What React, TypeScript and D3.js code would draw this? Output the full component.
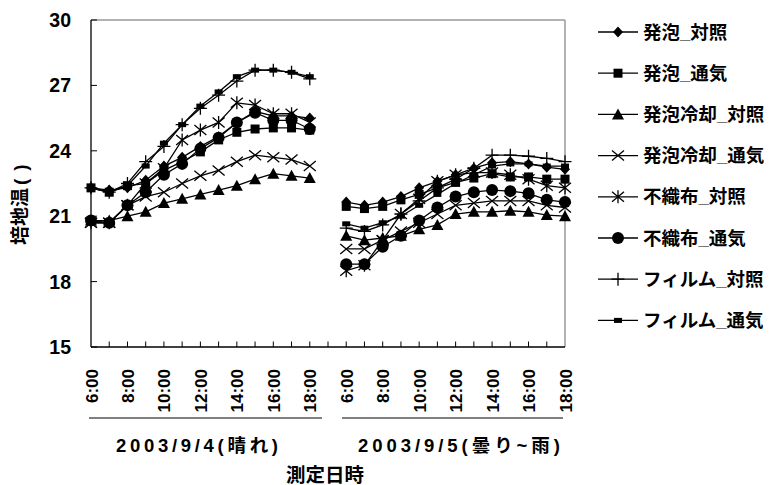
import React from "react";
import * as d3 from "d3";

const times = ["6:00","7:00","8:00","9:00","10:00","11:00","12:00","13:00","14:00","15:00","16:00","17:00","18:00"];
const categories = [...times, "", ...times];
const yTicks = [15, 18, 21, 24, 27, 30];
const groupLabels = ["2003/9/4(晴れ)", "2003/9/5(曇り~雨)"];
const xTitle = "測定日時";
const yTitleMain = "培地温";

const seriesNames = ["発泡_対照","発泡_通気","発泡冷却_対照","発泡冷却_通気","不織布_対照","不織布_通気","フィルム_対照","フィルム_通気"];
const markerTypes = ["diamond","square","triangle","x","star","circle","plus","dash"];

const hatsuTaisho = [22.3,22.2,22.3,22.65,23.3,23.7,24.2,24.65,25.3,25.8,25.6,25.6,25.5, null, 21.65,21.5,21.65,21.9,22.3,22.6,22.9,23.2,23.45,23.5,23.4,23.25,23.15];
const hatsuTsuki = [22.3,22.1,22.4,22.5,23.1,23.5,23.95,24.5,24.85,25.0,25.05,25.05,24.95, null, 21.45,21.35,21.45,21.75,22.0,22.3,22.55,22.75,22.95,22.8,22.8,22.7,22.7];
const reikyakuTaisho = [20.8,20.8,21.0,21.2,21.6,21.8,22.0,22.2,22.4,22.7,22.95,22.85,22.75, null, 20.1,19.9,20.0,20.1,20.4,20.6,21.1,21.2,21.2,21.25,21.2,21.05,21.0];
const reikyakuTsuki = [20.7,20.7,21.5,21.9,22.1,22.5,22.85,23.1,23.5,23.8,23.7,23.6,23.3, null, 19.5,19.5,19.9,20.3,20.7,21.1,21.5,21.6,21.7,21.7,21.7,21.5,21.4];
const fushokuTaisho = [20.7,20.7,21.5,22.5,23.2,24.5,24.95,25.3,26.2,26.1,25.7,25.7,25.3, null, 18.5,18.75,19.9,21.1,21.8,22.6,22.9,23.0,23.0,22.9,22.7,22.4,22.3];
const fushokuTsuki = [20.8,20.7,21.5,22.1,22.9,23.4,24.1,24.6,25.3,25.75,25.4,25.4,25.0, null, 18.8,18.8,19.6,20.1,20.8,21.4,21.9,22.1,22.2,22.15,22.05,21.75,21.65];
const filmTaisho = [22.3,22.1,22.5,23.5,24.2,25.2,25.95,26.55,27.2,27.7,27.7,27.6,27.3, null, 20.45,20.3,20.6,21.1,21.7,22.3,22.7,23.2,23.8,23.8,23.75,23.65,23.5];
const filmTsuki = [22.3,22.1,22.4,23.3,24.35,25.2,26.05,26.7,27.4,27.7,27.7,27.6,27.4, null, 20.65,20.45,20.7,21.0,21.5,22.0,22.5,22.9,23.3,23.4,23.4,23.3,23.3];

const seriesValues = [hatsuTaisho, hatsuTsuki, reikyakuTaisho, reikyakuTsuki, fushokuTaisho, fushokuTsuki, filmTaisho, filmTsuki];

const FONT = "'Liberation Sans', Arial, 'Noto Sans CJK JP', sans-serif";

function Marker({ type, x, y }: { type: string; x: number; y: number }) {
  const t = `translate(${x},${y})`;
  switch (type) {
    case "diamond":
      return <path transform={t} d="M0,-5.5L5,0L0,5.5L-5,0Z" fill="#000" />;
    case "square":
      return <rect x={x - 4.5} y={y - 4.5} width={9} height={9} fill="#000" />;
    case "triangle":
      return <path transform={t} d="M0,-6L6,5L-6,5Z" fill="#000" />;
    case "x":
      return <path transform={t} d="M-6,-5L6,5M-6,5L6,-5" stroke="#000" strokeWidth={1.3} fill="none" />;
    case "star":
      return <path transform={t} d="M-6,-5L6,5M-6,5L6,-5M0,-6.5L0,6.5" stroke="#000" strokeWidth={1.3} fill="none" />;
    case "circle":
      return <circle cx={x} cy={y} r={6} fill="#000" />;
    case "plus":
      return <path transform={t} d="M-6.5,0L6.5,0M0,-6.5L0,6.5" stroke="#000" strokeWidth={1.3} fill="none" />;
    case "dash":
      return <rect x={x - 4} y={y - 2.5} width={8} height={5} fill="#000" />;
  }
  return null;
}

export default function App() {
  const left = 91, right = 565, top = 20, bottom = 347;
  const x = d3.scaleLinear().domain([0, categories.length - 1]).range([left, right]);
  const y = d3.scaleLinear().domain([15, 30]).range([bottom, top]);
  const line = d3.line<number | null>()
    .defined((d) => d !== null)
    .x((_, i) => x(i))
    .y((d) => y(d as number));

  const legendY = (i: number) => 32 + i * 41.2;

  return (
    <svg width={770} height={485} style={{ position: "absolute", left: 0, top: 0, background: "#fff" }} fontFamily={FONT} fontWeight="bold">
      <rect width={770} height={485} fill="#fff" />
      {/* plot border */}
      <line x1={left} x2={right} y1={top} y2={top} stroke="#999" strokeWidth={1.5} />
      <line x1={right} x2={right} y1={top} y2={bottom} stroke="#999" strokeWidth={1.5} />
      {/* y axis */}
      <line x1={left} x2={left} y1={top} y2={bottom} stroke="#000" strokeWidth={1.3} />
      {yTicks.map((t) => (
        <g key={t}>
          <line x1={left} x2={left + 6} y1={y(t)} y2={y(t)} stroke="#000" strokeWidth={1} />
          <text x={71} y={y(t) + 7} textAnchor="end" fontSize={19.5}>{t}</text>
        </g>
      ))}
      {/* x axis */}
      <line x1={left} x2={right} y1={bottom} y2={bottom} stroke="#000" strokeWidth={1.3} />
      {categories.map((c, i) => (i > 0 && i < categories.length - 1 ? (
        <line key={"t" + i} x1={x(i)} x2={x(i)} y1={bottom} y2={bottom - 5.5} stroke="#000" strokeWidth={1} />
      ) : null))}
      {categories.map((c, i) => {
        const k = i < 13 ? i : i - 14;
        if (c === "" || k % 2 !== 0) return null;
        return (
          <text key={"l" + i} transform={`translate(${x(i) + 6.5},369) rotate(-90)`} textAnchor="end" fontSize={17}>{c}</text>
        );
      })}
      {/* group underlines */}
      <line x1={89} x2={322} y1={418} y2={418} stroke="#000" strokeWidth={1} />
      <line x1={342} x2={563} y1={418} y2={418} stroke="#000" strokeWidth={1} />
      <text x={197} y={452} textAnchor="middle" fontSize={18.5} textLength={162} lengthAdjust="spacing">{groupLabels[0]}</text>
      <text x={459} y={452} textAnchor="middle" fontSize={18.5} textLength={202} lengthAdjust="spacing">{groupLabels[1]}</text>
      <text x={325} y={482} textAnchor="middle" fontSize={19.5}>{xTitle}</text>
      <text transform={`translate(27,245) rotate(-90)`} textAnchor="start" fontSize={19}>
        {yTitleMain}
        <tspan dx={3}>(</tspan>
        <tspan dx={8}>)</tspan>
      </text>
      {/* series */}
      {seriesValues.map((vals, s) => (
        <g key={"s" + s}>
          <path d={line(vals) || ""} fill="none" stroke="#000" strokeWidth={1.3} />
          {vals.map((v, i) => (v === null ? null : <Marker key={i} type={markerTypes[s]} x={x(i)} y={y(v)} />))}
        </g>
      ))}
      {/* legend */}
      {seriesNames.map((n, i) => (
        <g key={"lg" + i}>
          <line x1={598} x2={638} y1={legendY(i)} y2={legendY(i)} stroke="#000" strokeWidth={1.3} />
          <Marker type={markerTypes[i]} x={618} y={legendY(i)} />
          <text x={643} y={legendY(i) + 6.5} fontSize={18.5}>{n}</text>
        </g>
      ))}
    </svg>
  );
}
